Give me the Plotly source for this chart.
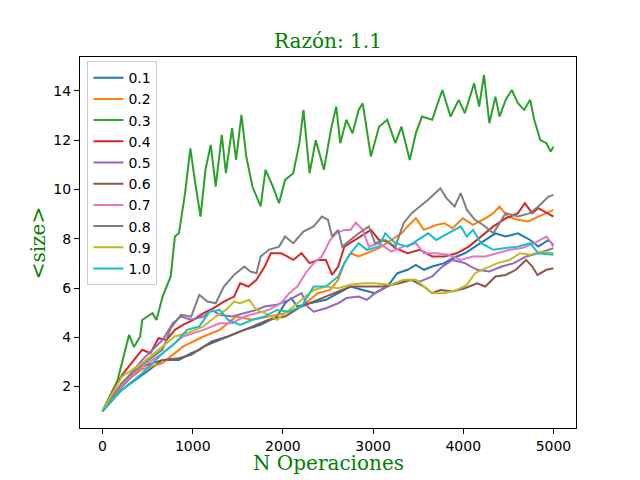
import plotly.graph_objects as go

# datos (x = n operaciones, y = <size>)
labels = ["0.1", "0.2", "0.3", "0.4", "0.5", "0.6", "0.7", "0.8", "0.9", "1.0"]
colors = ["#1f77b4", "#ff7f0e", "#2ca02c", "#d62728", "#9467bd",
          "#8c564b", "#e377c2", "#7f7f7f", "#bcbd22", "#17becf"]

x_01 = [0, 213, 666, 847, 983, 1073, 1209, 1390, 1572, 1753, 1934, 2024, 2092, 2160, 2296,
        2477, 2613, 2749, 2885, 3021, 3157, 3270, 3383, 3474, 3564, 3655, 3791, 3881, 4017,
        4130, 4244, 4357, 4470, 4606, 4742, 4832, 4945, 5000]
y_01 = [1.0, 1.86, 3.08, 3.08, 3.35, 3.49, 3.83, 4.03, 4.3, 4.5, 4.84, 5.38, 5.59, 5.25, 5.38,
        5.52, 5.79, 6.06, 5.92, 5.79, 6.06, 6.6, 6.74, 6.94, 6.74, 6.87, 7.01, 7.21, 7.41,
        7.68, 7.95, 8.22, 8.09, 8.22, 7.95, 7.68, 7.95, 7.75]

x_02 = [0, 213, 440, 666, 892, 1119, 1300, 1481, 1662, 1843, 2024, 2206, 2387, 2523, 2613,
        2681, 2749, 2840, 2931, 3066, 3202, 3315, 3383, 3474, 3564, 3700, 3791, 3881, 3995,
        4108, 4244, 4334, 4402, 4493, 4606, 4719, 4832, 5000]
y_02 = [1.0, 2.1, 2.7, 2.95, 3.62, 4.03, 4.3, 4.84, 4.71, 4.84, 4.98, 5.25, 5.79, 5.92, 6.33,
        7.01, 7.41, 7.28, 7.41, 7.62, 7.95, 8.22, 8.5, 8.83, 8.36, 8.56, 8.63, 8.43, 8.83,
        8.56, 8.83, 9.04, 9.31, 8.9, 8.77, 8.7, 8.9, 9.17]

x_03 = [0, 168, 294, 349, 417, 440, 553, 598, 666, 756, 802, 847, 915, 974, 1028, 1087, 1141,
        1200, 1255, 1322, 1368, 1436, 1481, 1540, 1594, 1662, 1753, 1807, 1889, 1957, 2024,
        2115, 2183, 2228, 2296, 2364, 2455, 2532, 2591, 2636, 2704, 2772, 2840, 2885, 2976,
        3066, 3157, 3247, 3315, 3406, 3474, 3542, 3655, 3768, 3859, 3949, 4017, 4121, 4176,
        4230, 4289, 4357, 4402, 4470, 4538, 4606, 4674, 4742, 4787, 4855, 4923, 4968, 5000]
y_03 = [1.0, 2.27, 4.1, 3.6, 4.03, 4.7, 4.98, 4.7, 5.65, 6.47, 8.09, 8.22, 9.85, 11.67, 10.25,
        8.9, 10.8, 11.81, 10.12, 12.22, 10.66, 12.49, 11.2, 13.03, 11.34, 10.12, 9.31, 10.8,
        10.12, 9.44, 10.39, 10.66, 11.88, 13.23, 10.66, 12.0, 10.8, 12.42, 13.37, 11.88, 12.83,
        12.28, 13.23, 13.5, 11.34, 12.55, 12.83, 11.88, 12.55, 11.2, 12.28, 12.96, 12.83,
        14.04, 12.96, 13.64, 13.1, 14.31, 13.37, 14.65, 12.69, 13.77, 12.96, 13.64, 14.04,
        13.5, 13.23, 13.64, 12.83, 12.0, 11.88, 11.54, 11.74]

x_04 = [0, 213, 349, 440, 530, 621, 711, 802, 892, 1005, 1119, 1232, 1345, 1458, 1526, 1617,
        1707, 1798, 1866, 1979, 2047, 2115, 2206, 2296, 2387, 2477, 2545, 2613, 2681, 2794,
        2908, 2976, 3066, 3157, 3247, 3383, 3519, 3655, 3791, 3927, 4062, 4198, 4334, 4470,
        4606, 4683, 4765, 4832, 4923, 5000]
y_04 = [1.0, 2.45, 3.08, 3.49, 3.35, 3.96, 3.89, 4.3, 4.5, 4.71, 4.98, 5.18, 5.45, 5.65, 6.19,
        6.06, 6.33, 6.87, 7.41, 7.41, 7.28, 7.14, 7.41, 7.01, 7.14, 7.14, 6.53, 6.87, 7.68,
        7.95, 8.22, 8.36, 7.95, 7.89, 7.62, 7.41, 7.55, 7.28, 7.28, 7.41, 7.68, 8.09, 8.5,
        8.83, 9.04, 9.44, 9.04, 9.24, 9.04, 8.9]

x_05 = [0, 213, 440, 666, 779, 870, 983, 1119, 1209, 1300, 1436, 1572, 1707, 1798, 1934, 2070,
        2206, 2273, 2341, 2477, 2613, 2704, 2840, 2931, 3021, 3157, 3292, 3383, 3519, 3655,
        3768, 3881, 4017, 4153, 4289, 4425, 4561, 4697, 4832, 5000]
y_05 = [1.0, 2.1, 3.08, 3.89, 4.57, 4.84, 4.71, 4.84, 5.11, 4.91, 4.84, 4.98, 5.11, 5.25, 5.32,
        5.52, 5.79, 5.25, 5.04, 5.18, 5.38, 5.59, 5.65, 5.52, 5.79, 6.06, 6.26, 6.33, 6.26,
        6.47, 6.87, 7.14, 7.01, 6.74, 6.67, 6.87, 7.01, 7.28, 7.41, 7.62]

x_06 = [0, 213, 440, 666, 847, 983, 1119, 1300, 1481, 1662, 1843, 2024, 2206, 2387, 2568, 2749,
        2931, 3111, 3292, 3428, 3564, 3655, 3746, 3881, 4017, 4153, 4244, 4357, 4470, 4583,
        4697, 4765, 4823, 4923, 5000]
y_06 = [1.0, 2.0, 2.81, 3.08, 3.15, 3.29, 3.62, 3.89, 4.17, 4.44, 4.71, 4.84, 5.25, 5.52, 5.79,
        6.06, 6.06, 6.06, 6.19, 6.33, 6.06, 5.79, 5.92, 5.86, 5.99, 6.19, 6.06, 6.47, 6.53,
        6.74, 7.14, 6.87, 6.53, 6.74, 6.8]

x_07 = [0, 213, 440, 666, 892, 1119, 1300, 1436, 1572, 1707, 1843, 1979, 2070, 2160, 2251, 2341,
        2432, 2523, 2591, 2681, 2749, 2808, 2885, 2953, 3066, 3202, 3338, 3474, 3564, 3700,
        3836, 3972, 4108, 4244, 4380, 4515, 4651, 4787, 4923, 5000]
y_07 = [1.0, 2.05, 2.81, 3.35, 4.03, 4.3, 4.57, 4.57, 4.84, 4.98, 5.11, 5.38, 5.79, 6.06, 6.6,
        7.01, 7.28, 7.95, 8.22, 8.36, 8.36, 8.66, 8.36, 7.68, 7.82, 7.48, 7.68, 7.82, 7.41,
        7.41, 7.35, 7.14, 7.28, 7.28, 7.41, 7.55, 7.62, 7.82, 8.09, 7.68]

x_08 = [0, 213, 440, 666, 756, 870, 983, 1073, 1164, 1255, 1345, 1458, 1572, 1640, 1707, 1753,
        1843, 1957, 2024, 2115, 2228, 2341, 2432, 2500, 2545, 2613, 2658, 2749, 2840, 2953,
        3021, 3134, 3247, 3338, 3428, 3519, 3610, 3746, 3813, 3904, 3972, 4040, 4130, 4221,
        4334, 4470, 4606, 4742, 4832, 4945, 5000]
y_08 = [1.0, 2.15, 2.9, 3.5, 4.37, 4.91, 4.84, 5.72, 5.45, 5.38, 6.06, 6.53, 6.87, 6.67, 6.6,
        7.28, 7.55, 7.68, 8.09, 7.82, 8.29, 8.5, 8.9, 8.77, 8.09, 8.36, 7.68, 7.95, 8.22, 8.5,
        7.82, 7.95, 7.68, 8.63, 9.04, 9.31, 9.58, 10.05, 9.65, 9.31, 9.85, 9.17, 8.77, 8.56,
        8.22, 9.04, 8.9, 9.04, 9.31, 9.71, 9.78]

x_09 = [0, 213, 440, 666, 802, 937, 1119, 1255, 1368, 1458, 1526, 1626, 1707, 1798, 1934, 2070,
        2206, 2341, 2477, 2613, 2749, 2885, 3021, 3202, 3338, 3474, 3564, 3655, 3791, 3927,
        4040, 4130, 4244, 4380, 4515, 4629, 4742, 4878, 5000]
y_09 = [1.0, 2.4, 2.95, 3.62, 4.03, 4.17, 4.44, 4.84, 5.11, 5.45, 5.38, 5.52, 5.11, 4.98, 4.71,
        5.11, 5.52, 5.92, 6.06, 5.99, 6.13, 6.19, 6.19, 6.13, 6.33, 6.33, 6.06, 5.79, 5.79,
        5.92, 6.13, 6.6, 6.8, 7.01, 7.14, 7.41, 7.35, 7.48, 7.41]

x_10 = [0, 213, 440, 666, 802, 937, 1073, 1187, 1300, 1390, 1526, 1662, 1798, 1934, 2070, 2206,
        2341, 2477, 2613, 2681, 2749, 2840, 2931, 3066, 3134, 3247, 3383, 3496, 3610, 3700,
        3836, 3972, 4040, 4108, 4198, 4334, 4470, 4606, 4742, 4832, 5000]
y_10 = [1.0, 1.86, 2.54, 3.35, 3.76, 4.3, 4.44, 5.04, 5.11, 4.71, 4.5, 4.71, 4.84, 5.11, 5.04,
        5.25, 6.06, 6.06, 6.47, 7.01, 7.41, 7.82, 7.55, 7.68, 8.22, 7.82, 7.68, 7.95, 8.22,
        7.95, 8.22, 8.5, 8.09, 8.36, 7.82, 7.55, 7.62, 7.68, 7.82, 7.41, 7.35]

xs = [x_01, x_02, x_03, x_04, x_05, x_06, x_07, x_08, x_09, x_10]
ys = [y_01, y_02, y_03, y_04, y_05, y_06, y_07, y_08, y_09, y_10]

fig = go.Figure()
for lab, col, xv, yv in zip(labels, colors, xs, ys):
    fig.add_trace(go.Scatter(x=xv, y=yv, mode="lines", name=lab,
                             line=dict(color=col, width=2)))

green = "#008000"
serif = dict(family="DejaVu Serif", size=20, color=green)
tick_font = dict(family="DejaVu Sans", size=14, color="black")

# the page body adds an 8px offset, so the figure is drawn 8px smaller
fig.update_layout(
    width=632, height=472,
    margin=dict(l=72, r=64, t=49, b=52),
    paper_bgcolor="white", plot_bgcolor="white",
    showlegend=True,
    title=dict(text="Razón: 1.1", x=0.5, xref="paper", y=0.93, yref="container",
               yanchor="middle", font=serif),
    legend=dict(x=0.015, y=0.989, xanchor="left", yanchor="top",
                bgcolor="rgba(255,255,255,0.8)", bordercolor="#cccccc", borderwidth=1,
                font=dict(family="DejaVu Sans", size=14, color="black"),
                itemwidth=30, tracegroupgap=0),
    annotations=[
        dict(text="N Operaciones", x=0.5, y=-0.094, xref="paper", yref="paper",
             xanchor="center", yanchor="middle", showarrow=False, font=serif),
        dict(text="&lt;size&gt;", x=-0.085, y=0.5, xref="paper", yref="paper",
             xanchor="center", yanchor="middle", textangle=-90, showarrow=False, font=serif),
    ],
)
fig.update_xaxes(
    range=[-250, 5250], tickvals=[0, 1000, 2000, 3000, 4000, 5000], automargin=False,
    showgrid=False, zeroline=False, showline=True, linecolor="black", linewidth=1,
    mirror=True, ticks="outside", ticklen=5, tickcolor="black", tickfont=tick_font,
)
fig.update_yaxes(
    range=[0.315, 15.38], tickvals=[2, 4, 6, 8, 10, 12, 14], automargin=False,
    showgrid=False, zeroline=False, showline=True, linecolor="black", linewidth=1,
    mirror=True, ticks="outside", ticklen=5, tickcolor="black", tickfont=tick_font,
)

fig.write_html("out.html")
